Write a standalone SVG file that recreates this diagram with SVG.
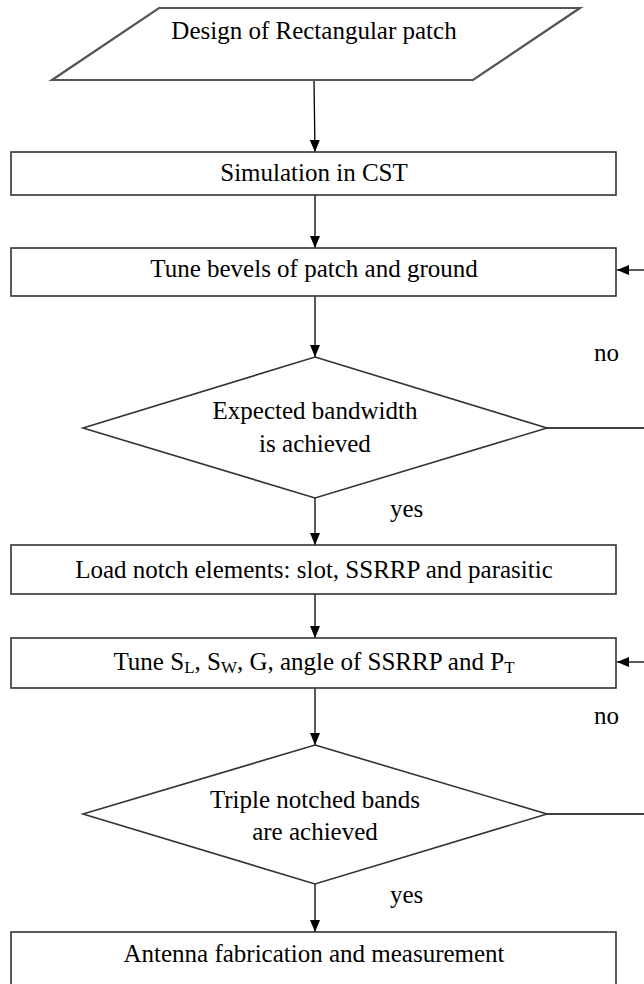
<svg xmlns="http://www.w3.org/2000/svg" width="644" height="984" viewBox="0 0 644 984">
<defs>
<marker id="ah" viewBox="0 0 12 10" refX="12" refY="5" markerWidth="12" markerHeight="10" markerUnits="userSpaceOnUse" orient="auto">
<path d="M0,0 L12,5 L0,10 z" fill="#000"/>
</marker>
</defs>
<style>
.shape{fill:#fff;stroke:#333;stroke-width:1.6}
.para{fill:#fff;stroke:#555;stroke-width:2.2}
.t{font-family:"Liberation Serif","Times New Roman",serif;font-size:25px;fill:#000;text-anchor:middle}
.lbl{font-family:"Liberation Serif","Times New Roman",serif;font-size:25px;fill:#000}
.c{fill:none;stroke:#000;stroke-width:1.3}
</style>
<rect width="644" height="984" fill="#fff"/>
<g id="connectors">
<line class="c" x1="314" y1="80" x2="315" y2="152" marker-end="url(#ah)"/>
<line class="c" x1="315" y1="195" x2="315" y2="248" marker-end="url(#ah)"/>
<line class="c" x1="315" y1="296" x2="315" y2="357" marker-end="url(#ah)"/>
<line class="c" x1="315" y1="498" x2="315" y2="545" marker-end="url(#ah)"/>
<line class="c" x1="315" y1="594" x2="315" y2="638" marker-end="url(#ah)"/>
<line class="c" x1="315" y1="688" x2="315" y2="745" marker-end="url(#ah)"/>
<line class="c" x1="315" y1="884" x2="315" y2="932" marker-end="url(#ah)"/>
<line class="c" x1="547" y1="428" x2="646" y2="428"/>
<line class="c" x1="646" y1="270" x2="617" y2="270" marker-end="url(#ah)"/>
<line class="c" x1="547" y1="814" x2="646" y2="814"/>
<line class="c" x1="646" y1="662" x2="617" y2="662" marker-end="url(#ah)"/>
<text class="lbl" x="594" y="361">no</text>
<text class="lbl" x="390" y="517">yes</text>
<text class="lbl" x="594" y="724">no</text>
<text class="lbl" x="390" y="903">yes</text>
</g>
<g id="start">
<polygon class="para" points="159,8 580,8 473,80 52,80"/>
<text class="t" x="314" y="39">Design of Rectangular patch</text>
</g>
<g id="sim">
<rect class="shape" x="11" y="152" width="605" height="43"/>
<text class="t" x="314" y="181">Simulation in CST</text>
</g>
<g id="tune1">
<rect class="shape" x="11" y="248" width="605" height="48"/>
<text class="t" x="314" y="277">Tune bevels of patch and ground</text>
</g>
<g id="dec1">
<polygon class="shape" points="315,357 547,428 315,498 83,428"/>
<text class="t" x="315" y="419">Expected bandwidth</text>
<text class="t" x="315" y="452">is achieved</text>
</g>
<g id="load">
<rect class="shape" x="11" y="545" width="605" height="49"/>
<text class="t" x="314" y="578">Load notch elements: slot, SSRRP and parasitic</text>
</g>
<g id="tune2">
<rect class="shape" x="11" y="638" width="605" height="50"/>
<text class="t" x="314" y="670">Tune S<tspan font-size="17" dy="3">L</tspan><tspan dy="-3">, S</tspan><tspan font-size="17" dy="3">W</tspan><tspan dy="-3">, G, angle of SSRRP and P</tspan><tspan font-size="17" dy="3">T</tspan></text>
</g>
<g id="dec2">
<polygon class="shape" points="315,745 547,814 315,884 83,814"/>
<text class="t" x="315" y="808">Triple notched bands</text>
<text class="t" x="315" y="840">are achieved</text>
</g>
<g id="fab">
<rect class="shape" x="11" y="932" width="605" height="60"/>
<text class="t" x="314" y="962">Antenna fabrication and measurement</text>
</g>
</svg>
